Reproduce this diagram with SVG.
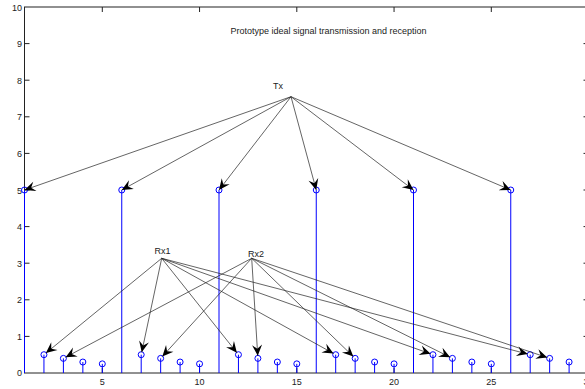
<svg xmlns="http://www.w3.org/2000/svg" width="585" height="389" viewBox="0 0 585 389">
<defs>
<marker id="ah" markerUnits="userSpaceOnUse" markerWidth="14" markerHeight="12" viewBox="-11 -6 12 12" refX="0" refY="0" orient="auto">
<path d="M0,0 L-11,-5 L-7,0 L-11,5 Z" fill="#000"/>
</marker>
</defs>
<style>
text{font-family:"Liberation Sans",Arial,sans-serif;font-size:9px;fill:#222}
.ax{stroke:#222;stroke-width:1;fill:none}
.tk{stroke:#222;stroke-width:1}
.st{stroke:#0000ff;stroke-width:1}
.mk{fill:none;stroke:#0000ff;stroke-width:1}
.ar{stroke:#222;stroke-width:0.7;fill:none;marker-end:url(#ah)}
</style>
<rect width="585" height="389" fill="#fff"/>
<g id="axes">
<rect class="ax" x="24.5" y="7" width="564" height="366"/>
<path class="tk" d="M24.5,336.4h5M24.5,299.8h5M24.5,263.2h5M24.5,226.6h5M24.5,190h5M24.5,153.4h5M24.5,116.8h5M24.5,80.2h5M24.5,43.6h5M588.5,336.4h-5M588.5,299.8h-5M588.5,263.2h-5M588.5,226.6h-5M588.5,190h-5M588.5,153.4h-5M588.5,116.8h-5M588.5,80.2h-5M588.5,43.6h-5M102.3,373v-5M199.55,373v-5M296.8,373v-5M394.05,373v-5M491.3,373v-5M102.3,7v5M199.55,7v5M296.8,7v5M394.05,7v5M491.3,7v5"/>
<g text-anchor="end">
<text x="22" y="376">0</text><text x="22" y="339.5">1</text><text x="22" y="303">2</text><text x="22" y="266.5">3</text><text x="22" y="230">4</text><text x="22" y="193.5">5</text><text x="22" y="157">6</text><text x="22" y="120">7</text><text x="22" y="83.5">8</text><text x="22" y="47">9</text><text x="22" y="10.5">10</text>
</g>
<g text-anchor="middle">
<text x="102.3" y="385">5</text><text x="199.55" y="385">10</text><text x="296.8" y="385">15</text><text x="394.05" y="385">20</text><text x="491.3" y="385">25</text><text x="588.5" y="385">30</text>
</g>
<text x="328.5" y="34" text-anchor="middle">Prototype ideal signal transmission and reception</text>
</g>
<g id="stems">
<path class="st" d="M24.5,373V190M121.75,373V190M219,373V190M316.25,373V190M413.5,373V190M510.75,373V190M43.95,373V354.7M63.4,373V358.36M82.85,373V362.02M102.3,373V363.85M141.2,373V354.7M160.65,373V358.36M180.1,373V362.02M199.55,373V363.85M238.45,373V354.7M257.9,373V358.36M277.35,373V362.02M296.8,373V363.85M335.7,373V354.7M355.15,373V358.36M374.6,373V362.02M394.05,373V363.85M432.95,373V354.7M452.4,373V358.36M471.85,373V362.02M491.3,373V363.85M530.2,373V354.7M549.65,373V358.36M569.1,373V362.02"/>
<g class="mk">
<circle cx="24.5" cy="190" r="3"/><circle cx="121.75" cy="190" r="3"/><circle cx="219" cy="190" r="3"/><circle cx="316.25" cy="190" r="3"/><circle cx="413.5" cy="190" r="3"/><circle cx="510.75" cy="190" r="3"/>
<circle cx="43.95" cy="354.7" r="3"/><circle cx="63.4" cy="358.36" r="3"/><circle cx="82.85" cy="362.02" r="3"/><circle cx="102.3" cy="363.85" r="3"/>
<circle cx="141.2" cy="354.7" r="3"/><circle cx="160.65" cy="358.36" r="3"/><circle cx="180.1" cy="362.02" r="3"/><circle cx="199.55" cy="363.85" r="3"/>
<circle cx="238.45" cy="354.7" r="3"/><circle cx="257.9" cy="358.36" r="3"/><circle cx="277.35" cy="362.02" r="3"/><circle cx="296.8" cy="363.85" r="3"/>
<circle cx="335.7" cy="354.7" r="3"/><circle cx="355.15" cy="358.36" r="3"/><circle cx="374.6" cy="362.02" r="3"/><circle cx="394.05" cy="363.85" r="3"/>
<circle cx="432.95" cy="354.7" r="3"/><circle cx="452.4" cy="358.36" r="3"/><circle cx="471.85" cy="362.02" r="3"/><circle cx="491.3" cy="363.85" r="3"/>
<circle cx="530.2" cy="354.7" r="3"/><circle cx="549.65" cy="358.36" r="3"/><circle cx="569.1" cy="362.02" r="3"/>
</g>
</g>
<g id="Tx"><text x="278" y="88.5" text-anchor="middle">Tx</text></g>
<g id="Rx1"><text x="162.5" y="253.5" text-anchor="middle">Rx1</text></g>
<g id="Rx2"><text x="256" y="256.5" text-anchor="middle">Rx2</text></g>
<g id="connectors">
<path class="ar" d="M291,96.7L24.5,190"/>
<path class="ar" d="M291,96.7L121.75,190"/>
<path class="ar" d="M291,96.7L219,190"/>
<path class="ar" d="M291,96.7L316.25,190"/>
<path class="ar" d="M291,96.7L413.5,190"/>
<path class="ar" d="M291,96.7L510.75,190"/>
<path class="ar" d="M161.7,258.3L45.88,353.12"/>
<path class="ar" d="M161.7,258.3L141.72,352.25"/>
<path class="ar" d="M161.7,258.3L236.89,352.74"/>
<path class="ar" d="M161.7,258.3L333.51,353.49"/>
<path class="ar" d="M161.7,258.3L430.59,353.86"/>
<path class="ar" d="M161.7,258.3L527.78,354.07"/>
<path class="ar" d="M251.7,258.3L65.61,357.19"/>
<path class="ar" d="M251.7,258.3L162.33,356.51"/>
<path class="ar" d="M251.7,258.3L257.75,355.86"/>
<path class="ar" d="M251.7,258.3L353.35,356.62"/>
<path class="ar" d="M251.7,258.3L450.16,357.24"/>
<path class="ar" d="M251.7,258.3L547.28,357.56"/>
</g>
</svg>
